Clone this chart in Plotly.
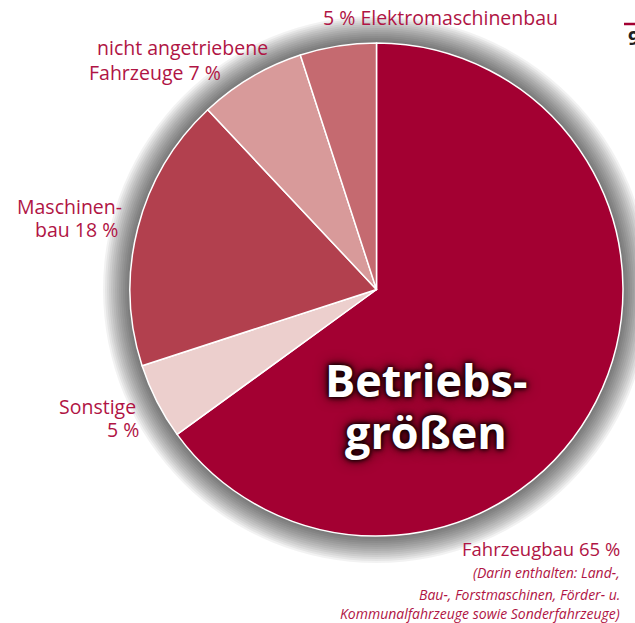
import plotly.graph_objects as go

# ---- data ----
categories = ["Fahrzeugbau", "Sonstige", "Maschinenbau",
              "nicht angetriebene Fahrzeuge", "Elektromaschinenbau"]
shares = [65, 5, 18, 7, 5]
colors = ["#A30032", "#ECCFCD", "#B2404E", "#D89A9A", "#C56A70"]

W, H = 635, 623
CX, CY, R = 376.5, 289.5, 246.5   # pie centre / radius in pixels
LABEL_COLOR = "#B01444"
FONT = "Open Sans"

def px(x):
    return x / W

def py(y):
    return 1 - y / H

fig = go.Figure()
fig.add_trace(go.Pie(
    labels=categories, values=shares, sort=False, direction="clockwise",
    rotation=0, marker=dict(colors=colors, line=dict(color="white", width=1.5)),
    textinfo="none", hoverinfo="label+percent", showlegend=False,
    domain=dict(x=[px(CX - R), px(CX + R)], y=[py(CY + R), py(CY - R)]),
))

shapes = []
# soft shadow around the pie
for i in range(14):
    rr = R + 1 + i * 2
    shapes.append(dict(type="circle", xref="paper", yref="paper", layer="below",
                       x0=px(CX - rr), x1=px(CX + rr), y0=py(CY + rr), y1=py(CY - rr),
                       fillcolor="rgba(0,0,0,0.05)", line=dict(width=0)))
# small page marker top right
shapes.append(dict(type="line", xref="paper", yref="paper",
                   x0=px(624), x1=px(640), y0=py(24), y1=py(24),
                   line=dict(color="#A30032", width=2.5)))

ann = []
def label(text, x, y, anchor, size=19.5, italic=False, color=LABEL_COLOR, weight="normal"):
    ann.append(dict(text=text, x=px(x), y=py(y), xref="paper", yref="paper",
                    xanchor=anchor, yanchor="middle", showarrow=False,
                    font=dict(family=FONT, size=size, color=color, weight=weight,
                              style="italic" if italic else "normal")))

label("5 % Elektromaschinenbau", 321, 17, "left")
label("nicht angetriebene", 95, 48, "left")
label("Fahrzeuge 7 %", 87, 72, "left")
label("Maschinen-", 124, 206, "right")
label("bau 18 %", 120, 230, "right")
label("Sonstige", 138, 406, "right")
label("5 %", 141, 429, "right")
label("Fahrzeugbau 65 %", 622, 548, "right", size=18.5)
label("(Darin enthalten: Land-,", 622, 572, "right", size=14, italic=True)
label("Bau-, Forstmaschinen, Förder- u.", 622, 594, "right", size=14, italic=True)
label("Kommunalfahrzeuge sowie Sonderfahrzeuge)", 622, 613, "right", size=14, italic=True)
ann.append(dict(text="9", x=px(626), y=py(38), xref="paper", yref="paper",
                xanchor="left", yanchor="middle", showarrow=False,
                font=dict(family=FONT, size=20, color="#222222", weight="bold")))

# title inside the pie
for txt, yy in [("Betriebs-", 379), ("größen", 431)]:
    ann.append(dict(text=txt, x=px(426), y=py(yy), xref="paper", yref="paper",
                    xanchor="center", yanchor="middle", showarrow=False,
                    font=dict(family=FONT, size=45, color="white", weight="bold",
                              shadow="0px 0px 6px #000, 0px 0px 14px #300, 0px 0px 4px #000")))

fig.update_layout(width=W, height=H, margin=dict(l=0, r=0, t=0, b=0),
                  paper_bgcolor="white", plot_bgcolor="white",
                  shapes=shapes, annotations=ann)
fig.write_html("out.html", config={"displayModeBar": False},
               post_script="document.body.style.margin='0';"
                           "document.documentElement.style.overflow='hidden';")
